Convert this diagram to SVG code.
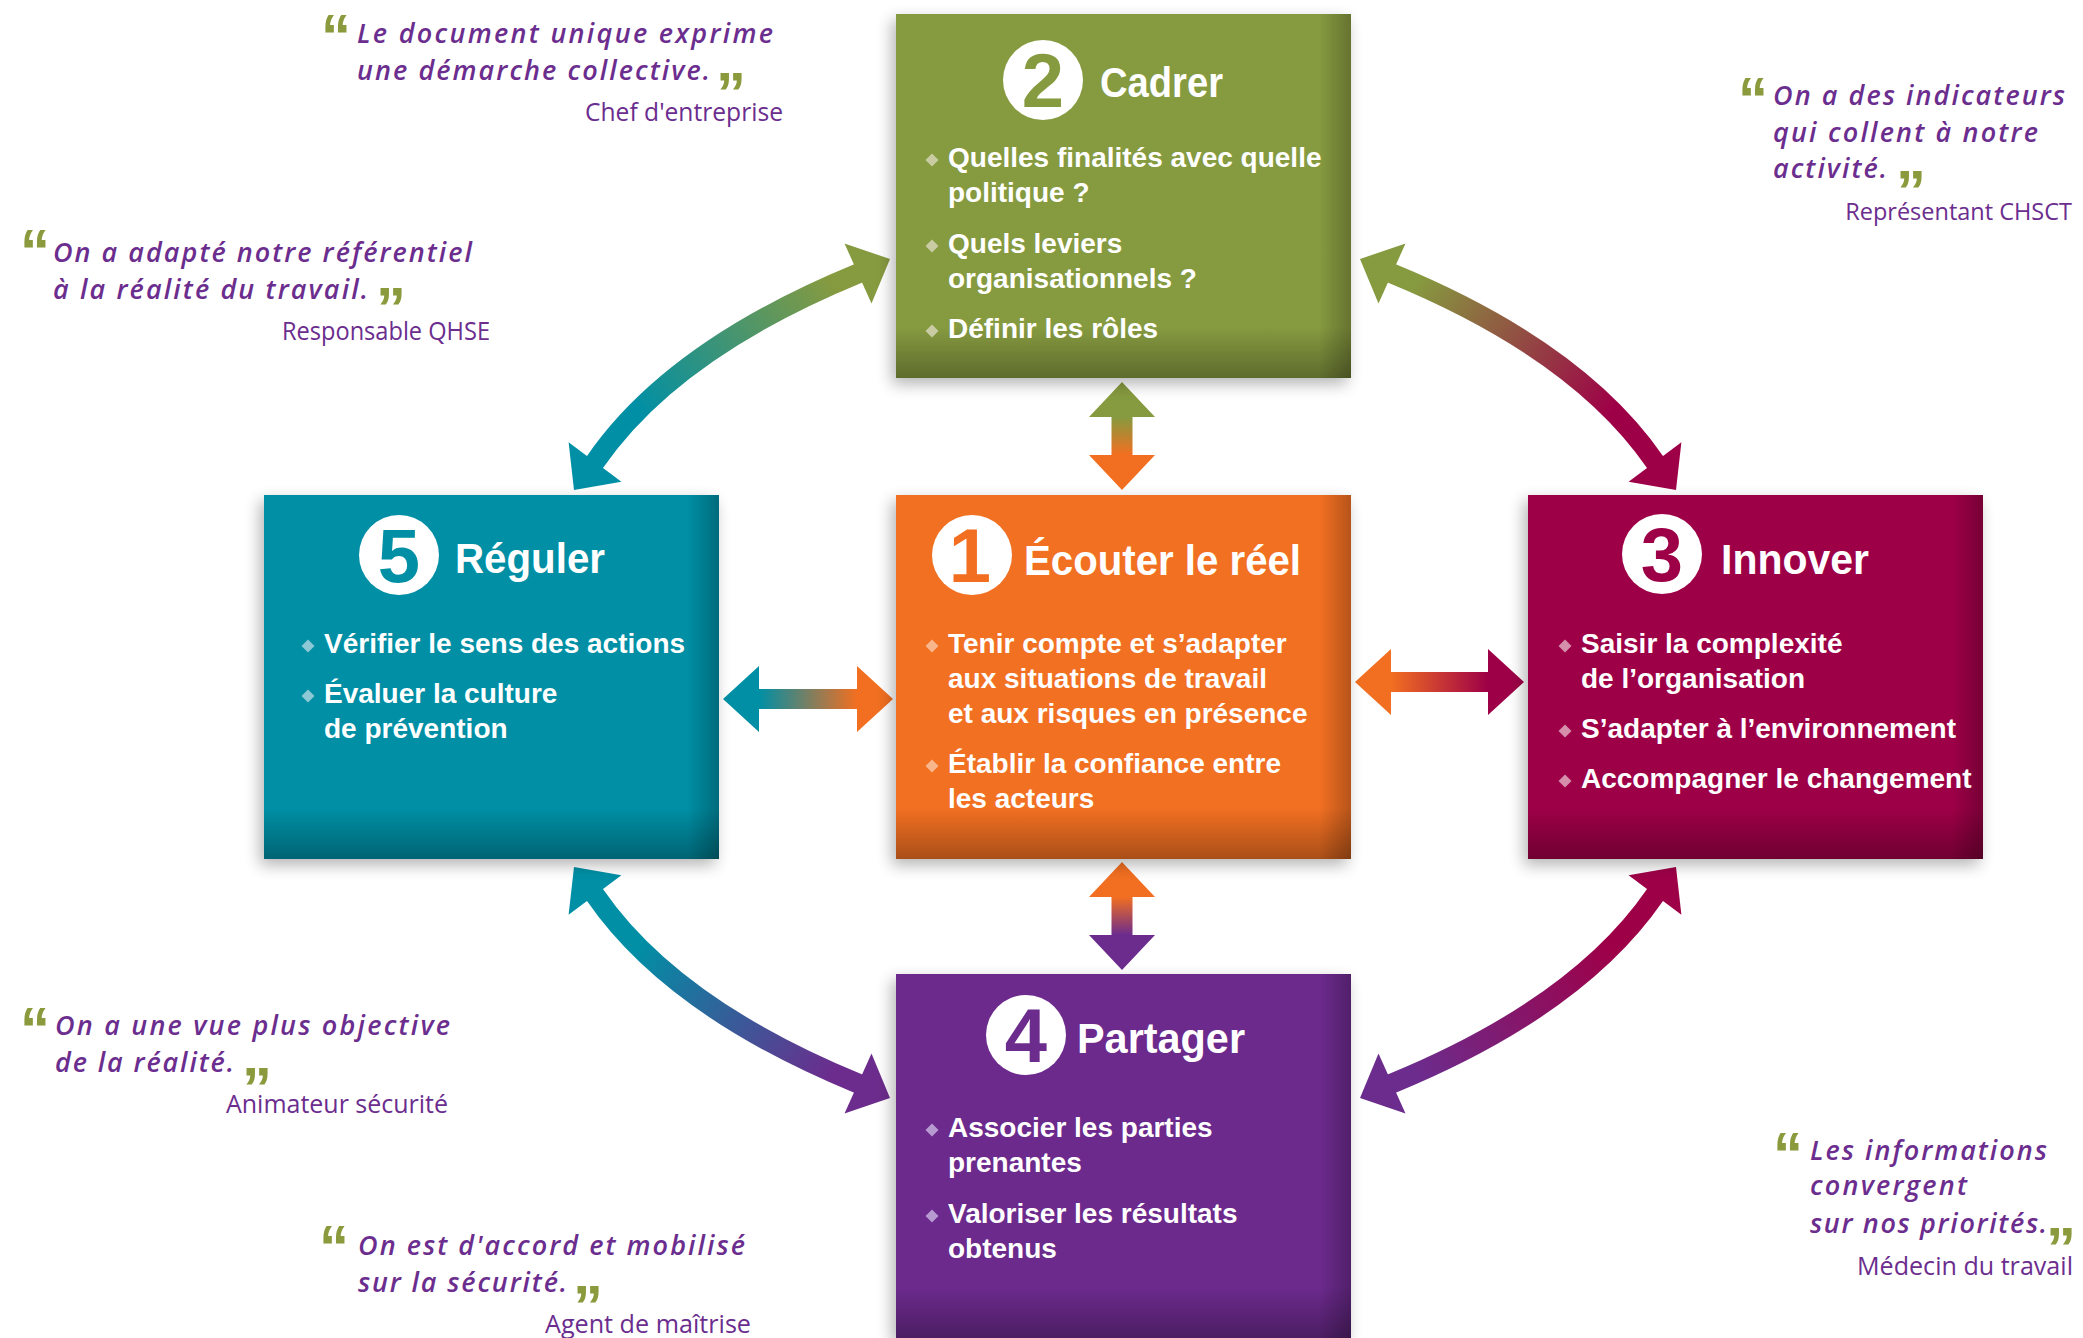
<svg xmlns="http://www.w3.org/2000/svg" xmlns:xlink="http://www.w3.org/1999/xlink" width="2083" height="1338" viewBox="0 0 2083 1338">
<style>
.qt{font-family:"Open Sans","Liberation Sans",sans-serif;font-style:italic;font-weight:600;font-size:27px;fill:#6b2d8e}
.qa{font-family:"Open Sans","Liberation Sans",sans-serif;font-weight:400;font-size:25px;fill:#6b2d8e}
.qm{font-family:"Liberation Sans",sans-serif;font-weight:700;font-size:60px;fill:#8a9a3c}
.bt{font-family:"Liberation Sans",sans-serif;font-weight:700;font-size:28px;fill:#ffffff}
.tt{font-family:"Liberation Sans",sans-serif;font-weight:700;font-size:42px;fill:#ffffff}
.num{font-family:"Liberation Sans",sans-serif;font-weight:700;font-size:76px;text-anchor:middle}
.shaft{fill:none;stroke-width:20}
</style>
<defs>
<filter id="sh" x="-10%" y="-10%" width="120%" height="125%">
<feGaussianBlur in="SourceAlpha" stdDeviation="8"/>
<feOffset dx="-4" dy="6"/>
<feComponentTransfer><feFuncA type="linear" slope="0.3"/></feComponentTransfer>
<feMerge><feMergeNode/><feMergeNode in="SourceGraphic"/></feMerge>
</filter>
<linearGradient id="shB" x1="0" y1="0" x2="0" y2="1">
<stop offset="0.86" stop-color="#000" stop-opacity="0"/>
<stop offset="1" stop-color="#000" stop-opacity="0.3"/>
</linearGradient>
<linearGradient id="shR" x1="0" y1="0" x2="1" y2="0">
<stop offset="0.93" stop-color="#000" stop-opacity="0"/>
<stop offset="1" stop-color="#000" stop-opacity="0.25"/>
</linearGradient>
<path id="dia" d="M0,-6.5 L6.5,0 L0,6.5 L-6.5,0 Z"/>
<linearGradient id="gV1" gradientUnits="userSpaceOnUse" x1="0" y1="417" x2="0" y2="455">
<stop offset="0" stop-color="#869a3f"/><stop offset="1" stop-color="#f26f21"/>
</linearGradient>
<linearGradient id="gV2" gradientUnits="userSpaceOnUse" x1="0" y1="897" x2="0" y2="935">
<stop offset="0" stop-color="#f26f21"/><stop offset="1" stop-color="#6c2c8d"/>
</linearGradient>
<linearGradient id="gH1" gradientUnits="userSpaceOnUse" x1="759" y1="0" x2="857" y2="0">
<stop offset="0" stop-color="#008fa5"/><stop offset="1" stop-color="#f26f21"/>
</linearGradient>
<linearGradient id="gH2" gradientUnits="userSpaceOnUse" x1="1391" y1="0" x2="1488" y2="0">
<stop offset="0" stop-color="#f26f21"/><stop offset="1" stop-color="#9e0047"/>
</linearGradient>
<linearGradient id="gTL" gradientUnits="userSpaceOnUse" x1="595" y1="462" x2="858" y2="273">
<stop offset="0.2" stop-color="#008fa5"/><stop offset="0.92" stop-color="#869a3f"/>
</linearGradient>
<linearGradient id="gTR" gradientUnits="userSpaceOnUse" x1="595" y1="462" x2="858" y2="273">
<stop offset="0.2" stop-color="#9e0047"/><stop offset="0.92" stop-color="#869a3f"/>
</linearGradient>
<linearGradient id="gBL" gradientUnits="userSpaceOnUse" x1="595" y1="462" x2="858" y2="273">
<stop offset="0.2" stop-color="#008fa5"/><stop offset="0.92" stop-color="#6c2c8d"/>
</linearGradient>
<linearGradient id="gBR" gradientUnits="userSpaceOnUse" x1="595" y1="462" x2="858" y2="273">
<stop offset="0.2" stop-color="#9e0047"/><stop offset="0.92" stop-color="#6c2c8d"/>
</linearGradient>
</defs>
<rect width="2083" height="1338" fill="#ffffff"/>

<g id="connectors">
<polygon fill="url(#gV1)" points="1122,382 1155,417 1132.5,417 1132.5,455 1155,455 1122,490 1089,455 1111.5,455 1111.5,417 1089,417"/>
<polygon fill="url(#gV2)" points="1122,862 1155,897 1132.5,897 1132.5,935 1155,935 1122,970 1089,935 1111.5,935 1111.5,897 1089,897"/>
<polygon fill="url(#gH1)" points="723,699 759,666 759,689 857,689 857,666 893,699 857,732 857,709 759,709 759,732"/>
<polygon fill="url(#gH2)" points="1355,682 1391,649 1391,672 1488,672 1488,649 1524,682 1488,715 1488,692 1391,692 1391,715"/>
<g id="arrow-cadrer-reguler">
<path class="shaft" stroke="url(#gTL)" d="M590,469 L595,462 Q672,350 858,273.5 L864,271"/>
<polygon fill="url(#gTL)" points="574,490 568.6,442.2 621.4,481.8"/>
<polygon fill="url(#gTL)" points="890,259 844.5,243.5 871.5,303.5"/>
</g>
<g id="arrow-cadrer-innover" transform="matrix(-1 0 0 1 2250 0)">
<path class="shaft" stroke="url(#gTR)" d="M590,469 L595,462 Q672,350 858,273.5 L864,271"/>
<polygon fill="url(#gTR)" points="574,490 568.6,442.2 621.4,481.8"/>
<polygon fill="url(#gTR)" points="890,259 844.5,243.5 871.5,303.5"/>
</g>
<g id="arrow-reguler-partager" transform="matrix(1 0 0 -1 0 1357)">
<path class="shaft" stroke="url(#gBL)" d="M590,469 L595,462 Q672,350 858,273.5 L864,271"/>
<polygon fill="url(#gBL)" points="574,490 568.6,442.2 621.4,481.8"/>
<polygon fill="url(#gBL)" points="890,259 844.5,243.5 871.5,303.5"/>
</g>
<g id="arrow-innover-partager" transform="matrix(-1 0 0 -1 2250 1357)">
<path class="shaft" stroke="url(#gBR)" d="M590,469 L595,462 Q672,350 858,273.5 L864,271"/>
<polygon fill="url(#gBR)" points="574,490 568.6,442.2 621.4,481.8"/>
<polygon fill="url(#gBR)" points="890,259 844.5,243.5 871.5,303.5"/>
</g>
</g>

<g id="node-cadrer">
<rect x="896" y="14" width="455" height="364" fill="#869a3f" filter="url(#sh)"/>
<rect x="896" y="14" width="455" height="364" fill="url(#shB)"/>
<rect x="896" y="14" width="455" height="364" fill="url(#shR)"/>
<circle cx="1043" cy="80" r="40" fill="#ffffff"/>
<text class="num" x="1043" y="107" fill="#869a3f">2</text>
<text class="tt" x="1100" y="97" textLength="123" lengthAdjust="spacingAndGlyphs">Cadrer</text>
<g fill="#c9cca2"><use xlink:href="#dia" x="932" y="160"/><use xlink:href="#dia" x="932" y="246"/><use xlink:href="#dia" x="932" y="331"/></g>
<text class="bt" x="948" y="167">Quelles finalités avec quelle</text>
<text class="bt" x="948" y="202">politique ?</text>
<text class="bt" x="948" y="253">Quels leviers</text>
<text class="bt" x="948" y="288">organisationnels ?</text>
<text class="bt" x="948" y="338">Définir les rôles</text>
</g>

<g id="node-ecouter">
<rect x="896" y="495" width="455" height="364" fill="#f26f21" filter="url(#sh)"/>
<rect x="896" y="495" width="455" height="364" fill="url(#shB)"/>
<rect x="896" y="495" width="455" height="364" fill="url(#shR)"/>
<circle cx="972" cy="555" r="40" fill="#ffffff"/>
<text class="num" x="970" y="582" fill="#f26f21">1</text>
<text class="tt" x="1024" y="575" textLength="277" lengthAdjust="spacingAndGlyphs">Écouter le réel</text>
<g fill="#f9b68b"><use xlink:href="#dia" x="932" y="646"/><use xlink:href="#dia" x="932" y="766"/></g>
<text class="bt" x="948" y="653">Tenir compte et s’adapter</text>
<text class="bt" x="948" y="688">aux situations de travail</text>
<text class="bt" x="948" y="723">et aux risques en présence</text>
<text class="bt" x="948" y="773">Établir la confiance entre</text>
<text class="bt" x="948" y="808">les acteurs</text>
</g>

<g id="node-reguler">
<rect x="264" y="495" width="455" height="364" fill="#008fa5" filter="url(#sh)"/>
<rect x="264" y="495" width="455" height="364" fill="url(#shB)"/>
<rect x="264" y="495" width="455" height="364" fill="url(#shR)"/>
<circle cx="399" cy="555" r="40" fill="#ffffff"/>
<text class="num" x="399" y="582" fill="#008fa5">5</text>
<text class="tt" x="455" y="573" textLength="150" lengthAdjust="spacingAndGlyphs">Réguler</text>
<g fill="#8cc8d5"><use xlink:href="#dia" x="308" y="646"/><use xlink:href="#dia" x="308" y="696"/></g>
<text class="bt" x="324" y="653">Vérifier le sens des actions</text>
<text class="bt" x="324" y="703">Évaluer la culture</text>
<text class="bt" x="324" y="738">de prévention</text>
</g>

<g id="node-innover">
<rect x="1528" y="495" width="455" height="364" fill="#9e0047" filter="url(#sh)"/>
<rect x="1528" y="495" width="455" height="364" fill="url(#shB)"/>
<rect x="1528" y="495" width="455" height="364" fill="url(#shR)"/>
<circle cx="1662" cy="554" r="40" fill="#ffffff"/>
<text class="num" x="1662" y="581" fill="#9e0047">3</text>
<text class="tt" x="1721" y="574" textLength="148" lengthAdjust="spacingAndGlyphs">Innover</text>
<g fill="#d68fab"><use xlink:href="#dia" x="1565" y="646"/><use xlink:href="#dia" x="1565" y="731"/><use xlink:href="#dia" x="1565" y="781"/></g>
<text class="bt" x="1581" y="653">Saisir la complexité</text>
<text class="bt" x="1581" y="688">de l’organisation</text>
<text class="bt" x="1581" y="738">S’adapter à l’environnement</text>
<text class="bt" x="1581" y="788">Accompagner le changement</text>
</g>

<g id="node-partager">
<rect x="896" y="974" width="455" height="364" fill="#6c2c8d" filter="url(#sh)"/>
<rect x="896" y="974" width="455" height="364" fill="url(#shB)"/>
<rect x="896" y="974" width="455" height="364" fill="url(#shR)"/>
<circle cx="1026" cy="1035" r="40" fill="#ffffff"/>
<text class="num" x="1026" y="1062" fill="#6c2c8d">4</text>
<text class="tt" x="1077" y="1053" textLength="168" lengthAdjust="spacingAndGlyphs">Partager</text>
<g fill="#b79ad0"><use xlink:href="#dia" x="932" y="1130"/><use xlink:href="#dia" x="932" y="1216"/></g>
<text class="bt" x="948" y="1137">Associer les parties</text>
<text class="bt" x="948" y="1172">prenantes</text>
<text class="bt" x="948" y="1223">Valoriser les résultats</text>
<text class="bt" x="948" y="1258">obtenus</text>
</g>

<g id="quote-chef">
<text class="qm" x="321" y="56">“</text>
<text class="qt" x="357" y="43" textLength="416" lengthAdjust="spacing">Le document unique exprime</text>
<text class="qt" x="357" y="80" textLength="353" lengthAdjust="spacing">une démarche collective.</text>
<text class="qm" x="716" y="114">”</text>
<text class="qa" x="585" y="121" textLength="198" lengthAdjust="spacingAndGlyphs">Chef d'entreprise</text>
</g>
<g id="quote-qhse">
<text class="qm" x="20" y="271">“</text>
<text class="qt" x="53" y="262" textLength="419" lengthAdjust="spacing">On a adapté notre référentiel</text>
<text class="qt" x="53" y="299" textLength="315" lengthAdjust="spacing">à la réalité du travail.</text>
<text class="qm" x="376" y="329">”</text>
<text class="qa" x="282" y="340" textLength="208" lengthAdjust="spacingAndGlyphs">Responsable QHSE</text>
</g>
<g id="quote-chsct">
<text class="qm" x="1738" y="119">“</text>
<text class="qt" x="1773" y="105" textLength="292" lengthAdjust="spacing">On a des indicateurs</text>
<text class="qt" x="1773" y="142" textLength="265" lengthAdjust="spacing">qui collent à notre</text>
<text class="qt" x="1773" y="178" textLength="114" lengthAdjust="spacing">activité.</text>
<text class="qm" x="1896" y="212">”</text>
<text class="qa" x="2072" y="220" style="font-size:23.5px" text-anchor="end">Représentant CHSCT</text>
</g>
<g id="quote-animateur">
<text class="qm" x="20" y="1049">“</text>
<text class="qt" x="55" y="1035" textLength="395" lengthAdjust="spacing">On a une vue plus objective</text>
<text class="qt" x="55" y="1072" textLength="179" lengthAdjust="spacing">de la réalité.</text>
<text class="qm" x="242" y="1109">”</text>
<text class="qa" x="226" y="1113" textLength="222" lengthAdjust="spacingAndGlyphs">Animateur sécurité</text>
</g>
<g id="quote-agent">
<text class="qm" x="319" y="1267">“</text>
<text class="qt" x="358" y="1255" textLength="387" lengthAdjust="spacing">On est d'accord et mobilisé</text>
<text class="qt" x="358" y="1292" textLength="209" lengthAdjust="spacing">sur la sécurité.</text>
<text class="qm" x="573" y="1327">”</text>
<text class="qa" x="545" y="1333" textLength="206" lengthAdjust="spacingAndGlyphs">Agent de maîtrise</text>
</g>
<g id="quote-medecin">
<text class="qm" x="1773" y="1174">“</text>
<text class="qt" x="1810" y="1160" textLength="237" lengthAdjust="spacing">Les informations</text>
<text class="qt" x="1810" y="1195" textLength="157" lengthAdjust="spacing">convergent</text>
<text class="qt" x="1810" y="1233" textLength="237" lengthAdjust="spacing">sur nos priorités.</text>
<text class="qm" x="2046" y="1269">”</text>
<text class="qa" x="1857" y="1275" textLength="216" lengthAdjust="spacingAndGlyphs">Médecin du travail</text>
</g>
</svg>
